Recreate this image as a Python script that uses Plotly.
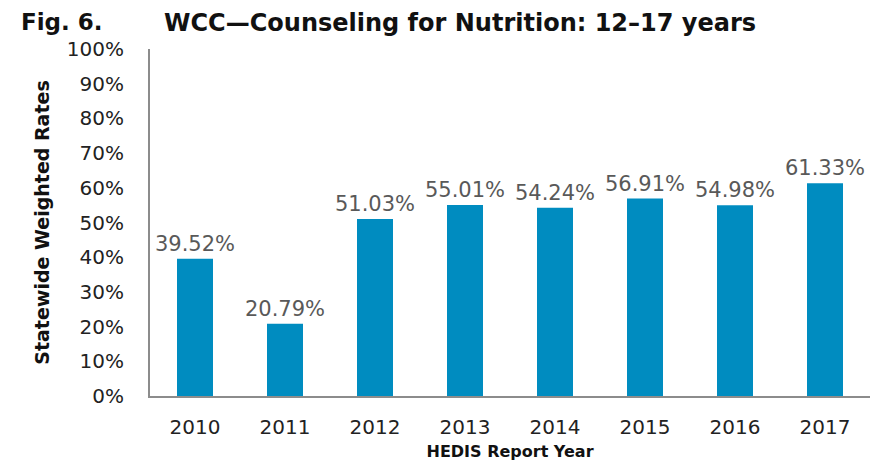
import plotly.graph_objects as go

# Data
years = ["2010", "2011", "2012", "2013", "2014", "2015", "2016", "2017"]
rates = [39.52, 20.79, 51.03, 55.01, 54.24, 56.91, 54.98, 61.33]
y_ticks = list(range(0, 101, 10))
y_tick_labels = [f"{v}%" for v in y_ticks]

BAR_COLOR = "#008CC0"
LABEL_FONT = "DejaVu Sans, Verdana, sans-serif"
BOLD_FONT = "DejaVu Sans, Verdana, sans-serif"

fig = go.Figure()

fig.add_trace(go.Bar(
    x=years,
    y=rates,
    marker=dict(color=BAR_COLOR, line=dict(width=0)),
    text=[f"{v:.2f}%" for v in rates],
    textposition="outside",
    constraintext="none",
    textfont=dict(family=LABEL_FONT, size=21, color="#595959"),
    cliponaxis=False,
    hoverinfo="skip",
))

# the page body adds an 8px offset, so margins are trimmed to compensate
fig.update_layout(
    width=886,
    height=463,
    margin=dict(l=142, r=24, t=41, b=75),
    paper_bgcolor="white",
    plot_bgcolor="white",
    bargap=0.6,
    showlegend=False,
    font=dict(family=LABEL_FONT, color="#222222"),
    xaxis=dict(
        type="category",
        automargin=False,
        showline=True,
        linecolor="#8c8c8c",
        linewidth=2,
        ticks="",
        showgrid=False,
        ticklabelstandoff=12,
        tickfont=dict(family=LABEL_FONT, size=20, color="#222222"),
        title=dict(
            text="<b>HEDIS Report Year</b>",
            font=dict(family=BOLD_FONT, size=16, color="#111111"),
            standoff=8,
        ),
    ),
    yaxis=dict(
        range=[0, 100],
        tickvals=y_ticks,
        ticktext=y_tick_labels,
        automargin=False,
        showline=True,
        linecolor="#8c8c8c",
        linewidth=2,
        ticks="",
        showgrid=False,
        zeroline=False,
        ticklabelstandoff=20,
        tickfont=dict(family=LABEL_FONT, size=20, color="#222222"),
        title=dict(
            text="<b>Statewide Weighted Rates</b>",
            font=dict(family=BOLD_FONT, size=19, color="#111111"),
            standoff=12,
        ),
    ),
)

# Figure caption across the top, anchored to the very top of the figure
title_y = 1 + 41 / 347
fig.add_annotation(
    text="<b>Fig. 6.</b>", xref="paper", yref="paper",
    x=-130 / 720, y=title_y, xanchor="left", yanchor="top",
    showarrow=False, borderpad=0, font=dict(family=BOLD_FONT, size=23, color="#111111"),
)
fig.add_annotation(
    text="<b>WCC\u2014Counseling for Nutrition: 12\u201317 years</b>", xref="paper", yref="paper",
    x=13 / 720, y=title_y, xanchor="left", yanchor="top",
    showarrow=False, borderpad=0, font=dict(family=BOLD_FONT, size=24, color="#111111"),
)

fig.write_html("out.html")
